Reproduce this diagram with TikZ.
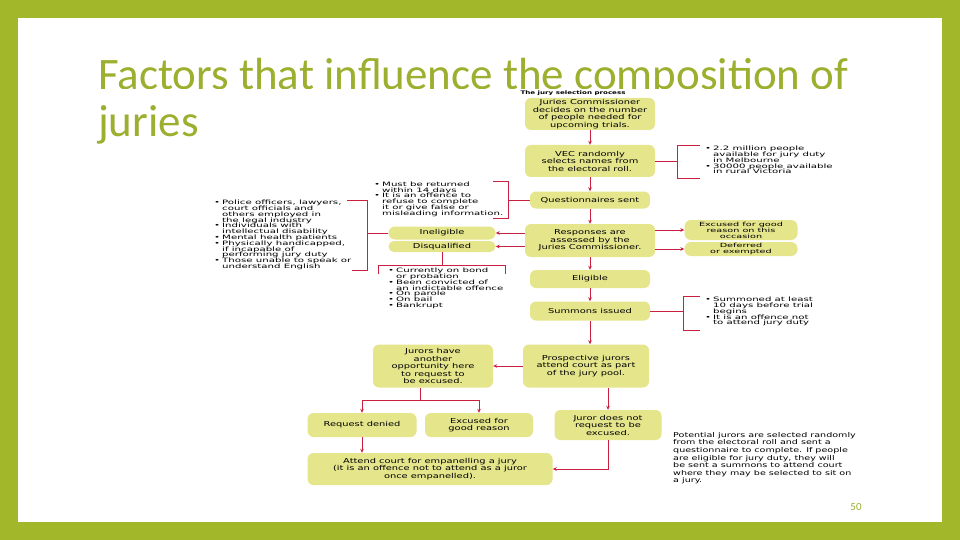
\documentclass[tikz,border=0pt]{standalone}
\usepackage{fontspec}
\setmainfont{Carlito}
\newfontfamily\chart[FakeStretch=1.45]{DejaVu Sans}
\newfontfamily\bulf[FakeStretch=1.7]{DejaVu Sans}
\usetikzlibrary{arrows.meta}
\definecolor{frame}{HTML}{A3B72B}
\definecolor{ttl}{HTML}{9DAF2E}
\definecolor{boxy}{HTML}{E5E68C}
\definecolor{lnred}{HTML}{C9213F}
\newcommand\bi{\makebox[8pt][l]{•}}
\newcommand\bc{\hspace*{8pt}}
\newcommand\tightl{\lineskiplimit=-5pt\relax}
\tikzset{
 box/.style={fill=boxy, rounded corners=6pt, align=center, font=\chart\fontsize{6.8}{7.5}\selectfont\tightl, inner sep=1pt},
 pill/.style={box, rounded corners=6.5pt},
 ln/.style={draw=lnred, line width=0.9pt},
 arr/.style={ln, -{Stealth[length=4pt,width=3.6pt]}},
 bul/.style={align=left, font=\bulf\fontsize{6.0}{5.8}\selectfont\tightl, inner sep=0pt, anchor=north west}
}
\begin{document}
\begin{tikzpicture}[x=1pt,y=-1pt]
\fill[frame] (0,0) rectangle (960,540);
\fill[white] (18,18) rectangle (942,522);
\useasboundingbox (0,0) rectangle (960,540);
% title
\begin{scope}
\clip (0,0) rectangle (960,88.5);
\node[anchor=base west, inner sep=0pt, text=ttl, font=\fontsize{45}{47}\selectfont] (title1) at (98,90) {\raisebox{0pt}[\height][0pt]{Factors that influence the composition of}};
\end{scope}
\node[anchor=base west, inner sep=0pt, text=ttl, font=\fontsize{45}{47}\selectfont] (title2) at (98,137) {juries};
% chart title
\node[font=\chart\bfseries\fontsize{4.9}{6}\selectfont, inner sep=0pt] (t0) at (573,93) {The jury selection process};
% boxes
\node[box, minimum width=130, minimum height=32] (b1) at (590,114) {Juries Commissioner\\decides on the number\\of people needed for\\upcoming trials.};
\node[box, minimum width=130, minimum height=32] (b2) at (590,161) {VEC randomly\\selects names from\\the electoral roll.};
\node[box, minimum width=120, minimum height=17] (b3) at (590,200) {Questionnaires sent};
\node[box, minimum width=130, minimum height=33] (b4) at (590,240.5) {Responses are\\assessed by the\\Juries Commissioner.};
\node[pill, minimum width=107, minimum height=13] (inel) at (442,233) {Ineligible};
\node[pill, minimum width=107, minimum height=11, rounded corners=5.5pt] (disq) at (442,246.5) {Disqualified};
\node[pill, minimum width=113, minimum height=20, font=\bulf\fontsize{5.7}{6}\selectfont\tightl] (exc1) at (741,230) {Excused for good\\reason on this\\occasion};
\node[pill, minimum width=113, minimum height=14, font=\bulf\fontsize{5.7}{6}\selectfont\tightl] (def) at (741,249) {Deferred\\or exempted};
\node[box, minimum width=120, minimum height=18] (b5) at (590,279) {Eligible};
\node[box, minimum width=120, minimum height=19] (b6) at (590,311) {Summons issued};
\node[box, minimum width=126, minimum height=43] (b7) at (586,366) {Prospective jurors\\attend court as part\\of the jury pool.};
\node[box, minimum width=120, minimum height=43] (b8) at (433,366) {Jurors have\\another\\opportunity here\\to request to\\be excused.};
\node[box, minimum width=109, minimum height=24] (rd) at (362,425) {Request denied};
\node[box, minimum width=108, minimum height=24] (egr) at (479,425) {Excused for\\good reason};
\node[box, minimum width=107, minimum height=30] (b9) at (608,425) {Juror does not\\request to be\\excused.};
\node[box, minimum width=245, minimum height=32] (b10) at (430,469) {Attend court for empanelling a jury\\(it is an offence not to attend as a juror\\once empanelled).};
% bullet texts
\node[bul] (nv) at (705,146) {\bi 2.2 million people\\\bc available for jury duty\\\bc in Melbourne\\\bi 30000 people available\\\bc in rural Victoria};
\node[bul] (nq) at (374,181.5) {\bi Must be returned\\\bc within 14 days\\\bi It is an offence to\\\bc refuse to complete\\\bc it or give false or\\\bc misleading information.};
\node[bul] (ni) at (214,200) {\bi Police officers, lawyers,\\\bc court officials and\\\bc others employed in\\\bc the legal industry\\\bi Individuals with\\\bc intellectual disability\\\bi Mental health patients\\\bi Physically handicapped,\\\bc if incapable of\\\bc performing jury duty\\\bi Those unable to speak or\\\bc understand English};
\node[bul] (nd) at (388,268) {\bi Currently on bond\\\bc or probation\\\bi Been convicted of\\\bc an indictable offence\\\bi On parole\\\bi On bail\\\bi Bankrupt};
\node[bul] (ns) at (705,297) {\bi Summoned at least\\\bc 10 days before trial\\\bc begins\\\bi It is an offence not\\\bc to attend jury duty};
\node[anchor=north west, align=left, inner sep=0pt, font=\chart\fontsize{6.6}{7.6}\selectfont] (note) at (673,432) {Potential jurors are selected randomly\\from the electoral roll and sent a\\questionnaire to complete. If people\\are eligible for jury duty, they will\\be sent a summons to attend court\\where they may be selected to sit on\\a jury.};
\node[text=ttl, font=\fontsize{11}{12}\selectfont, inner sep=0pt] (pg) at (856,507) {50};
% main arrows
\draw[arr] (b1) -- (b2);
\draw[arr] (b2) -- (b3);
\draw[arr] (b3) -- (b4);
\draw[arr] (b4) -- (b5);
\draw[arr] (b5) -- (b6);
\draw[arr] (b6.south) -- (b6.south |- b7.north);
\draw[arr] (b7) -- (b8);
\draw[arr] (b4.west |- inel) -- (inel.east);
\draw[arr] (b4.west |- disq) -- (disq.east);
\draw[arr] (b4.east |- exc1) -- (exc1.west);
\draw[arr] (b4.east |- def) -- (def.west);
% brackets
\coordinate (vb) at (677,161);
\draw[ln] (b2.east) -- (vb);
\draw[ln] (700,145) -- (677,145) -- (677,178) -- (700,178);
\coordinate (qb) at (508,200);
\draw[ln] (b3.west) -- (qb);
\draw[ln] (493,181) -- (508,181) -- (508,218) -- (493,218);
\coordinate (ib) at (367,233);
\draw[ln] (inel.west) -- (ib);
\draw[ln] (347,200) -- (367,200) -- (367,270) -- (352,270);
\coordinate (db) at (442,265);
\draw[ln] (disq.south) -- (db);
\draw[ln] (378,274) -- (378,265) -- (505,265) -- (505,274);
\coordinate (sb) at (683,311);
\draw[ln] (b6.east) -- (sb);
\draw[ln] (700,296) -- (683,296) -- (683,330) -- (700,330);
% lower part
\coordinate (sp) at (420,400);
\draw[ln] (b8.south -| sp) -- (sp);
\draw[ln] (rd.north |- sp) -- (egr.north |- sp);
\draw[arr] (rd.north |- sp) -- (rd.north);
\draw[arr] (egr.north |- sp) -- (egr.north);
\draw[arr] (b7.south -| b9) -- (b9.north);
\draw[arr] (rd.south) -- (rd.south |- b10.north);
\draw[arr] (b9.south) -- (b9.south |- b10.east) -- (b10.east);
\end{tikzpicture}
\end{document}
